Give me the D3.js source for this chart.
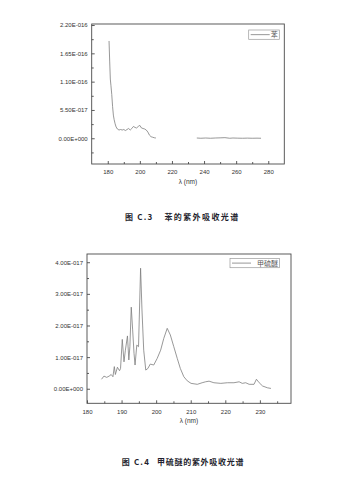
<!DOCTYPE html>
<html><head><meta charset="utf-8">
<script src="https://cdn.jsdelivr.net/npm/d3@7"></script>
<style>body{margin:0;background:#fff;}svg{display:block;}</style>
</head><body>
<svg id="c" width="362" height="490"></svg>
<script>
// ---- Chart C.3 : benzene ----
const benzeneSeg1 = [
 [180.8,1.89],[181.2,1.50],[181.6,1.15],[182.0,1.02],[182.5,0.85],[183.0,0.62],[183.5,0.45],[184.0,0.36],
 [184.6,0.28],[185.2,0.22],[186,0.18],[187,0.16],[188,0.17],[189,0.16],[190,0.17],[191,0.15],[192,0.17],
 [193,0.19],[194,0.16],[195,0.19],[196,0.23],[197,0.21],[198,0.20],[199,0.23],[200,0.25],[201,0.20],
 [202,0.19],[203,0.18],[204,0.16],[205,0.12],[206,0.06],[207,0.03],[208,0.02],[209,0.01],[210,0.005]
];
const benzeneSeg2 = [
 [235.5,0.005],[238,0.0],[241,0.005],[244,0.0],[247,0.005],[250,0.008],[253,0.012],[256,0.0],[258,0.005],
 [261,0.002],[264,0.0],[267,0.003],[270,0.0],[273,0.002],[275.5,0.0]
];
const benzeneXTicks = [180,200,220,240,260,280];
const benzeneYTicks = [0,0.55,1.10,1.65,2.20];
const benzeneYLabels = ["0.00E+000","5.50E-017","1.10E-016","1.65E-016","2.20E-016"];
const benzeneName = "苯";
const benzeneCaption = ["图 C.3", "苯的紫外吸收光谱"];

// ---- Chart C.4 : methyl sulfide ----
const dmsData = [
 [184.2,0.30],[184.9,0.40],[185.7,0.36],[186.4,0.40],[187.0,0.45],[187.5,0.38],[187.9,0.70],[188.2,0.45],
 [188.8,0.68],[189.4,0.57],[189.7,0.64],[190.2,1.56],[190.7,0.85],[191.1,1.22],[191.7,1.67],[192.1,0.91],
 [192.4,1.33],[192.8,2.58],[193.2,1.86],[193.6,1.12],[193.9,0.75],[194.4,1.38],[194.9,1.33],[195.5,3.81],
 [195.9,2.49],[196.4,1.22],[197.0,0.59],[197.6,0.64],[198.3,0.78],[199.3,0.75],[200.3,0.96],[201.3,1.22],
 [202.2,1.59],[203.2,1.91],[204.1,1.70],[205.1,1.33],[206.1,0.96],[207.0,0.64],[208.0,0.38],[209.0,0.25],
 [210.1,0.17],[211.9,0.14],[213.3,0.19],[214.3,0.22],[215.3,0.24],[216.7,0.19],[218.7,0.17],[220.6,0.19],
 [222.5,0.19],[224.0,0.22],[224.9,0.17],[225.9,0.19],[226.9,0.14],[228.3,0.14],[229.0,0.30],[229.8,0.19],
 [230.8,0.085],[232.2,0.03],[233.2,0.01]
];
const dmsXTicks = [180,190,200,210,220,230];
const dmsYTicks = [0,1,2,3,4];
const dmsYLabels = ["0.00E+000","1.00E-017","2.00E-017","3.00E-017","4.00E-017"];
const dmsName = "甲硫醚";
const dmsCaption = ["图 C.4", "甲硫醚的紫外吸收光谱"];

const svg = d3.select("#c");
const AX = "#4a4a4a", LINE = "#7d7d7d", TXT = "#333";
const FONT = "'Liberation Sans', Arial, sans-serif";

function drawChart(o){
  const g = svg.append("g");
  const x = d3.scaleLinear().domain(o.xdom).range([o.l, o.r]);
  const y = d3.scaleLinear().domain(o.ydom).range([o.b, o.t]);
  g.append("rect").attr("x",o.l).attr("y",o.t).attr("width",o.r-o.l).attr("height",o.b-o.t)
    .attr("fill","none").attr("stroke",AX).attr("stroke-width",0.9);
  const xMinor = [];
  for(let i=0;i<o.xticks.length;i++){ const v=o.xticks[i]+o.xstep/2; if(v<o.xdom[1]) xMinor.push(v); }
  const xa = d3.axisBottom(x).tickValues(o.xticks).tickSize(-3).tickPadding(6).tickFormat(d3.format("d"));
  const xg = g.append("g").attr("transform",`translate(0,${o.b})`).call(xa);
  const xm = d3.axisBottom(x).tickValues(xMinor).tickSize(-2).tickFormat("");
  const xmg = g.append("g").attr("transform",`translate(0,${o.b})`).call(xm);
  const yMinor = [];
  const ys = o.yticks[1]-o.yticks[0];
  for(let v=o.yticks[0]-ys/2; v<o.ydom[1]; v+=ys){ if(v>o.ydom[0] && o.yticks.every(t=>Math.abs(t-v)>1e-9)) yMinor.push(v); }
  const ya = d3.axisLeft(y).tickValues(o.yticks).tickSize(-3).tickPadding(4).tickFormat((d,i)=>o.ylabels[i]);
  const yg = g.append("g").attr("transform",`translate(${o.l},0)`).call(ya);
  const ym = d3.axisLeft(y).tickValues(yMinor).tickSize(-2).tickFormat("");
  const ymg = g.append("g").attr("transform",`translate(${o.l},0)`).call(ym);
  [xg,xmg,yg,ymg].forEach(a=>{
    a.select(".domain").remove();
    a.selectAll("line").attr("stroke",AX).attr("stroke-width",0.9);
    a.selectAll("text").attr("fill",TXT).style("font-family",FONT).style("font-size","6px");
  });
  g.append("text").attr("x",(o.l+o.r)/2).attr("y",o.b+19.5).attr("text-anchor","middle")
    .attr("fill",TXT).style("font-family",FONT).style("font-size","6.5px").text("λ (nm)");
  const line = d3.line().x(d=>x(d[0])).y(d=>y(d[1]));
  o.segs.forEach(s=>{
    g.append("path").attr("d",line(s)).attr("fill","none").attr("stroke",LINE).attr("stroke-width",0.8);
  });
  g.append("rect").attr("x",o.lg[0]).attr("y",o.lg[1]).attr("width",o.lg[2]).attr("height",o.lg[3])
    .attr("fill","#fff").attr("stroke","#9a9a9a").attr("stroke-width",0.7);
  g.append("line").attr("x1",o.lg[0]+2).attr("x2",o.lg[0]+21).attr("y1",o.lg[1]+o.lg[3]/2).attr("y2",o.lg[1]+o.lg[3]/2)
    .attr("stroke",LINE).attr("stroke-width",0.8);
  g.append("text").attr("x",o.lg[0]+o.lg[2]-1.5).attr("y",o.lg[1]+o.lg[3]/2+2.6).attr("text-anchor","end")
    .attr("fill","#555").style("font-family","'Noto Sans CJK SC'").style("font-size","7px").text(o.name);
  const cap = g.append("text").attr("x",o.capx).attr("y",o.capy).attr("fill","#1f1f2e")
    .style("font-family","'Noto Sans CJK SC', sans-serif").style("font-size","8px").style("font-weight","bold");
  cap.append("tspan").style("letter-spacing","1.2px").text(o.caption[0]);
  cap.append("tspan").attr("dx",o.capgap).style("letter-spacing",o.capls+"px").text(o.caption[1]);
}

drawChart({
  xdom:[170,290], ydom:[-0.5,2.22], l:91.7, r:284.3, t:24, b:164,
  xticks:benzeneXTicks, xstep:20, yticks:benzeneYTicks, ylabels:benzeneYLabels,
  segs:[benzeneSeg1, benzeneSeg2], lg:[248.7,30,30.6,9.3], name:benzeneName,
  caption:benzeneCaption, capx:125, capy:219.5, capgap:11, capls:1.4
});
drawChart({
  xdom:[180,239], ydom:[-0.46,4.26], l:87, r:291, t:254, b:403.3,
  xticks:dmsXTicks, xstep:10, yticks:dmsYTicks, ylabels:dmsYLabels,
  segs:[dmsData], lg:[230,258.5,49.5,9.2], name:dmsName,
  caption:dmsCaption, capx:121.7, capy:464.5, capgap:7, capls:0.7
});
</script>
</body></html>
